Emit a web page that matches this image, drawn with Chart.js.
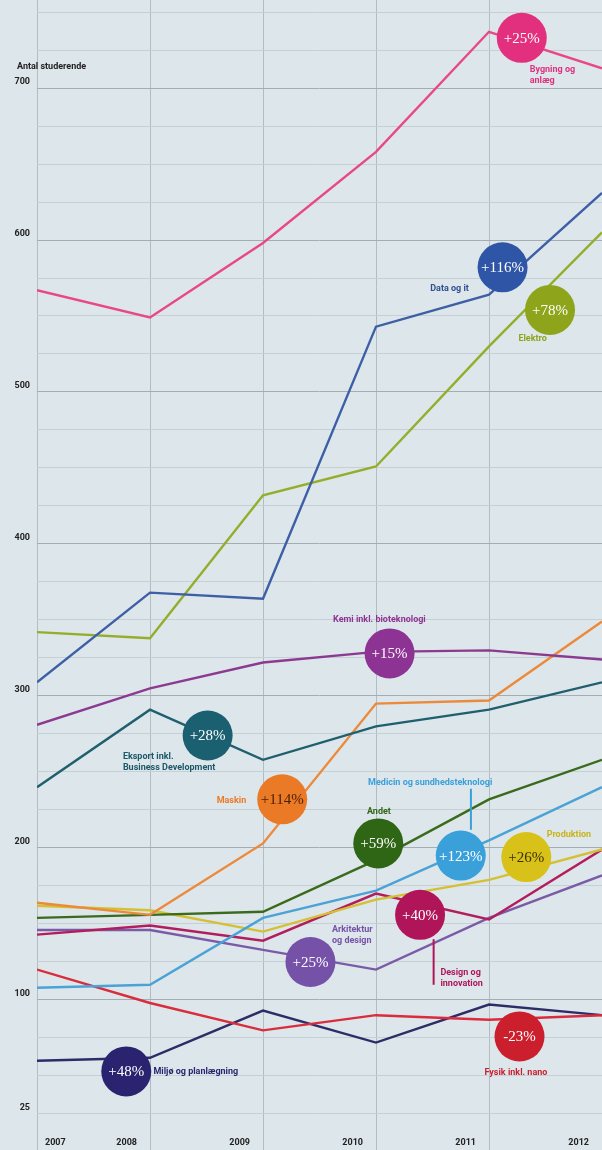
<!DOCTYPE html>
<html>
<head>
<meta charset="utf-8">
<script src="https://cdn.jsdelivr.net/npm/chart.js@4.4.1/dist/chart.umd.min.js"></script>
<style>
  html, body { margin: 0; padding: 0; background: #dde6ea; }
  #wrap { position: relative; width: 602px; height: 1150px; }
</style>
</head>
<body>
<div id="wrap"><canvas id="c"></canvas></div>
<script>
// ---- data ----
const years = [2007, 2008, 2009, 2010, 2011, 2012];
const yTickLabels = [25, 100, 200, 300, 400, 500, 600, 700];
const axisTitle = 'Antal studerende';

const bygning   = [567, 549, 598, 658, 737, 713];
const dataIt    = [309, 368, 364, 543, 564, 631];
const elektro   = [342, 338, 432, 451, 530, 605];
const kemi      = [281, 305, 322, 329, 330, 324];
const eksport   = [240, 291, 258, 280, 291, 309];
const maskin    = [164, 156, 203, 295, 297, 349];
const andet     = [154, 156, 158, 192, 232, 258];
const medicin   = [108, 110, 154, 172, 205, 240];
const produktion= [162, 159, 145, 166, 179, 199];
const designInn = [143, 149, 139, 170, 153, 199];
const arkitektur= [146, 146, 133, 120, 154, 182];
const fysik     = [120,  98,  80,  90,  87,  90];
const miljo     = [ 60,  62,  93,  72,  97,  90];

const seriesNames = ['Bygning og anlæg','Data og it','Elektro','Kemi inkl. bioteknologi',
  'Eksport inkl. Business Development','Maskin','Andet','Medicin og sundhedsteknologi',
  'Produktion','Design og innovation','Arkitektur og design','Fysik inkl. nano','Miljø og planlægning'];
const seriesValues = [bygning, dataIt, elektro, kemi, eksport, maskin, andet, medicin,
  produktion, designInn, arkitektur, fysik, miljo];
const seriesColors = ['#e8488a','#3d5fa6','#94ad2b','#8c3a90','#1f5f6e','#ec8a3c','#3a6a1c',
  '#4aa2d6','#d4c032','#b21d5e','#7b5aa6','#d92c3c','#2e2c66'];

// growth bubbles
const bubbleX    = [2011.29, 2011.12, 2011.54, 2010.12, 2008.51, 2009.17, 2010.02, 2010.75, 2011.33, 2010.39, 2009.42, 2011.27, 2007.79];
const bubbleY    = [733, 582, 554, 328, 274, 232, 203, 195, 194, 156, 125, 76, 53];
const bubbleText = ['+25%','+116%','+78%','+15%','+28%','+114%','+59%','+123%','+26%','+40%','+25%','-23%','+48%'];
const bubbleFill = ['#e2307e','#2f56a6','#8ea41a','#8d3393','#1a6070','#eb7a27','#2e6615','#3aa0da','#d8c21a','#b0155a','#7551a8','#cc1f2e','#2a2470'];
const bubbleInk  = ['#fff','#fff','#fff','#fff','#fff','#4a1e05','#fff','#fff','#3a3000','#fff','#fff','#fff','#fff'];

// series name labels
const labelLines = [['Bygning og','anlæg'],['Data og it'],['Elektro'],['Kemi inkl. bioteknologi'],
  ['Eksport inkl.','Business Development'],['Maskin'],['Andet'],['Medicin og sundhedsteknologi'],
  ['Produktion'],['Design og','innovation'],['Arkitektur','og design'],['Fysik inkl. nano'],['Miljø og planlægning']];
const labelX = [2011.36, 2010.48, 2011.26, 2009.62, 2007.76, 2008.59, 2009.92, 2009.93, 2011.51, 2010.57, 2009.61, 2010.96, 2008.03];
const labelY = [712, 568, 535, 350, 260, 231, 224, 243, 209, 118, 146, 52, 53];
const labelColor = ['#e0307e','#2f4f90','#8ea41a','#8d3393','#1a5868','#eb7a27','#2e6615','#3aa0da','#c8b41a','#b0155a','#7551a8','#cc1f2e','#2a2470'];

// connectors
const connX  = [2010.84, 2010.51];
const connY1 = [239, 140];
const connY2 = [212, 110];
const connColor = ['#3aa0da','#b0155a'];

// ---- chart ----
const datasets = seriesNames.map((n, i) => ({
  label: n,
  data: years.map((yr, j) => ({x: yr, y: seriesValues[i][j]})),
  borderColor: seriesColors[i],
  backgroundColor: seriesColors[i],
  borderWidth: 2.4,
  pointRadius: 0,
  tension: 0,
  fill: false
}));

const LABEL_FONT = "bold 9px 'Liberation Sans Narrow', 'Roboto', 'DejaVu Sans', sans-serif";

const decor = {
  id: 'decor',
  beforeDraw(chart) {
    const c = chart.ctx;
    c.save();
    c.fillStyle = '#dde6ea';
    c.fillRect(0, 0, chart.width, chart.height);
    c.restore();
  },
  afterDatasetsDraw(chart) {
    const c = chart.ctx, xs = chart.scales.x, ys = chart.scales.y;
    c.save();
    connX.forEach((x, i) => {
      c.strokeStyle = connColor[i];
      c.lineWidth = 2;
      c.beginPath();
      c.moveTo(xs.getPixelForValue(x), ys.getPixelForValue(connY1[i]));
      c.lineTo(xs.getPixelForValue(x), ys.getPixelForValue(connY2[i]));
      c.stroke();
    });
    bubbleX.forEach((x, i) => {
      const px = xs.getPixelForValue(x), py = ys.getPixelForValue(bubbleY[i]);
      c.fillStyle = bubbleFill[i];
      c.beginPath();
      c.arc(px, py, 25, 0, Math.PI * 2);
      c.fill();
      c.fillStyle = bubbleInk[i];
      c.font = "15px 'Liberation Serif', 'DejaVu Serif', serif";
      c.textAlign = 'center';
      c.textBaseline = 'middle';
      c.fillText(bubbleText[i], px, py + 1);
    });
    c.font = LABEL_FONT;
    c.textAlign = 'left';
    c.textBaseline = 'middle';
    labelLines.forEach((lines, i) => {
      const px = xs.getPixelForValue(labelX[i]), py = ys.getPixelForValue(labelY[i]);
      c.fillStyle = labelColor[i];
      lines.forEach((t, k) => c.fillText(t, px, py + k * 11));
    });
    c.fillStyle = '#222';
    c.fillText(axisTitle, 17, 67);
    years.forEach((yr, i) => {
      const px = xs.getPixelForValue(yr);
      if (i === 0) { c.textAlign = 'left'; c.fillText(String(yr), px + 8, 1143); }
      else { c.textAlign = 'right'; c.fillText(String(yr), Math.min(px - 13, 600), 1143); }
    });
    c.restore();
  }
};

new Chart(document.getElementById('c'), {
  type: 'line',
  data: { datasets },
  plugins: [decor],
  options: {
    responsive: true,
    maintainAspectRatio: false,
    animation: false,
    layout: { padding: 0 },
    plugins: { legend: { display: false }, tooltip: { enabled: false } },
    scales: {
      x: {
        type: 'linear', min: 2007, max: 2012,
        ticks: { display: false, stepSize: 1 },
        grid: { color: '#b3bdc1', lineWidth: 1, drawTicks: false },
        border: { display: false },
        afterFit(s) { s.height = 0; s.paddingLeft = 0; s.paddingRight = 0; }
      },
      y: {
        type: 'linear', min: 1.3, max: 757.9,
        afterBuildTicks(s) {
          const t = [];
          for (let v = 25; v <= 750; v += 25) t.push({ value: v });
          s.ticks = t;
        },
        ticks: {
          autoSkip: false,
          padding: 7,
          labelOffset: -6,
          color: '#222',
          font: { family: "'Liberation Sans Narrow', 'Roboto', sans-serif", size: 9, weight: 'bold' },
          callback: (v) => yTickLabels.includes(v) ? String(v) : ''
        },
        grid: {
          drawTicks: false,
          lineWidth: 1,
          color: (ctx) => (ctx.tick && ctx.tick.value % 100 === 0) ? '#a4aeb2' : '#c6d0d4'
        },
        border: { display: false },
        afterFit(s) { s.width = 37; s.paddingTop = 0; s.paddingBottom = 0; }
      }
    }
  }
});
</script>
</body>
</html>
